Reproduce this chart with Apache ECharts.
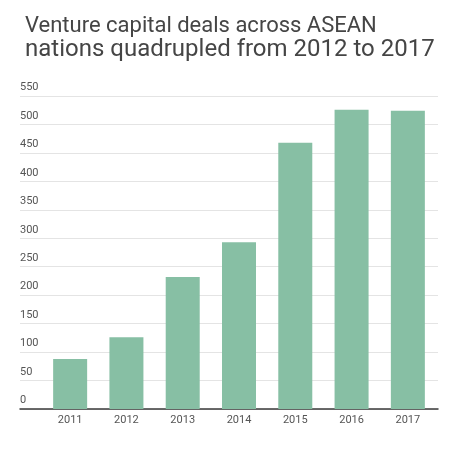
<!DOCTYPE html>
<html>
<head>
<meta charset="utf-8">
<script src="https://cdn.jsdelivr.net/npm/echarts@6/dist/echarts.min.js"></script>
<style>html,body{margin:0;padding:0;background:#fff;}#c{width:458px;height:449px;}</style>
</head>
<body>
<div id="c"></div>
<script>
const titleLine1 = "Venture capital deals across ASEAN";
const titleLine2 = "nations quadrupled from 2012 to 2017";
const years = ["2011", "2012", "2013", "2014", "2015", "2016", "2017"];
const deals = [88, 126, 232, 293, 468, 526, 524];
const yMin = 0, yMax = 550, yStep = 50;

const chart = echarts.init(document.getElementById('c'), null, {renderer: 'canvas'});
chart.setOption({
  backgroundColor: '#ffffff',
  animation: false,
  title: {
    text: '{a|' + titleLine1 + '}\n{b|' + titleLine2 + '}',
    left: 20, top: 9,
    textStyle: {
      fontFamily: 'Roboto', fontWeight: 'normal', color: '#454545',
      rich: {
        a: {fontFamily: 'Roboto', fontSize: 22, lineHeight: 24, color: '#454545'},
        b: {fontFamily: 'Roboto', fontSize: 24, lineHeight: 24, color: '#454545'}
      }
    }
  },
  grid: [
    {left: 20, right: 20, top: 96, bottom: 40},
    {left: 42, right: 22, top: 96, bottom: 40}
  ],
  xAxis: [
    {gridIndex: 0, type: 'value', min: 0, max: 1, axisLine: {show: true, lineStyle: {color: '#3a3a3a', width: 1.5}}, axisTick: {show: false}, axisLabel: {show: false}, splitLine: {show: false}},
    {gridIndex: 1, type: 'category', data: years, axisLine: {show: false}, axisTick: {show: false},
     axisLabel: {margin: 6, fontFamily: 'Roboto', fontSize: 11, color: '#555'}}
  ],
  yAxis: [
    {gridIndex: 0, type: 'value', min: yMin, max: yMax, interval: yStep,
     axisLine: {show: false}, axisTick: {show: false},
     axisLabel: {inside: true, margin: 0, verticalAlign: 'bottom', padding: [0, 0, 3, 0], fontFamily: 'Roboto', fontSize: 11, color: '#555'},
     splitLine: {lineStyle: {color: '#e4e4e4', width: 1}}},
    {gridIndex: 1, type: 'value', min: yMin, max: yMax, interval: yStep, show: false, splitLine: {show: false}}
  ],
  series: [{
    type: 'bar', xAxisIndex: 1, yAxisIndex: 1, data: deals, barWidth: 34,
    itemStyle: {color: '#87bfa4'}
  }]
});
</script>
</body>
</html>
